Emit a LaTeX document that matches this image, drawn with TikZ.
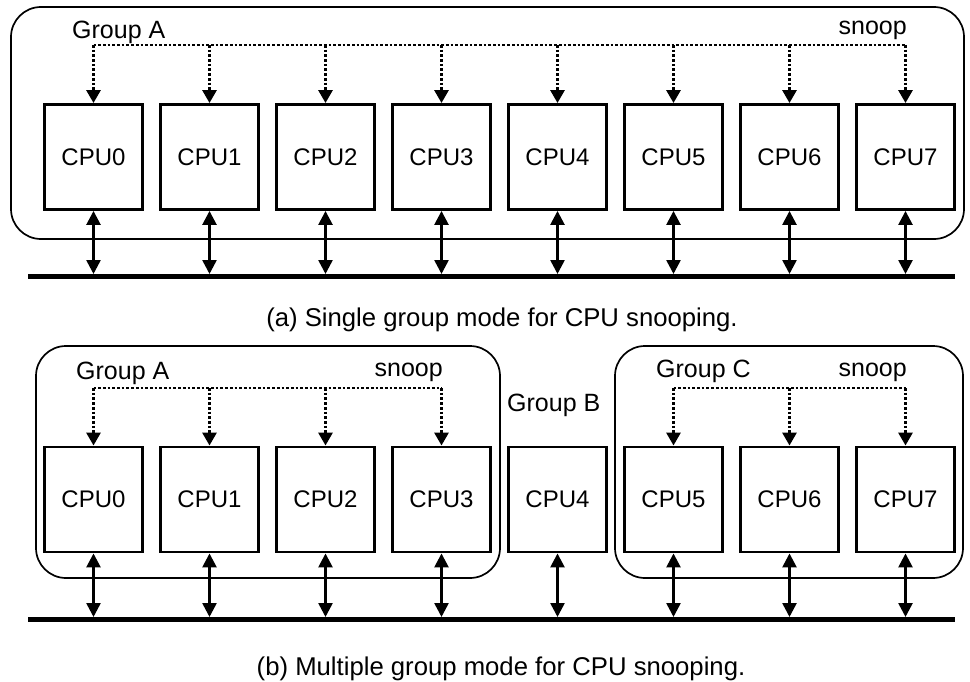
\documentclass[tikz,border=0pt]{standalone}
\usepackage{fontspec}
\setmainfont{Liberation Sans}
\usetikzlibrary{arrows.meta}
\begin{document}
\begin{tikzpicture}[x=1pt,y=-1pt,
  cpubox/.style={draw,line width=2.9pt,minimum width=98pt,minimum height=105pt,
    inner sep=0pt,font=\fontsize{24}{28}\selectfont},
  groupbox/.style={draw,line width=1.7pt,rounded corners=30pt},
  lbl/.style={font=\fontsize{25}{30}\selectfont,inner sep=0pt},
  caption/.style={font=\fontsize{25.7}{30}\selectfont,inner sep=0pt},
  snoopline/.style={line width=2.9pt,dash pattern=on 2.7pt off 2pt},
  snooparrow/.style={snoopline,-{Triangle[length=13pt,width=14pt]}},
  busline/.style={line width=5.5pt},
  busarrow/.style={line width=2.6pt,
    {Triangle[length=14pt,width=14pt]}-{Triangle[length=14pt,width=14pt]}},
]
\useasboundingbox (0,0) rectangle (970,682);

% ---------- (a) single group ----------
\draw[groupbox] (11,7) rectangle (964,239);
\node[lbl,anchor=base west] (grpAa) at (72,39) {Group A};
\node[lbl,anchor=base east] (snpAa) at (907,35) {snoop};
\foreach \i in {0,...,7}
  \node[cpubox] (cpuA\i) at ({93.5+116*\i},157) {CPU\i};

\coordinate (snoopA) at (0,45);
\coordinate (busAL) at (28,276.5);
\coordinate (busAR) at (955,276.5);
\coordinate (busAtop) at (0,274);

\draw[snoopline] (cpuA0.north |- snoopA) -- (cpuA7.north |- snoopA);
\foreach \i in {0,...,7}
  \draw[snooparrow] (cpuA\i.north |- snoopA) -- (cpuA\i.north);
\draw[busline] (busAL) -- (busAR);
\foreach \i in {0,...,7}
  \draw[busarrow] (cpuA\i.south) -- (cpuA\i.south |- busAtop);

\node[caption,anchor=base] (capA) at (502,326) {(a) Single group mode for CPU snooping.};

% ---------- (b) multiple groups ----------
\draw[groupbox] (36,346) rectangle (500,578);
\draw[groupbox] (615,346) rectangle (963,578);
\node[lbl,anchor=base west] (grpBa) at (76,379) {Group A};
\node[lbl,anchor=base east] (snpBa) at (443,376) {snoop};
\node[lbl,anchor=base west] (grpBb) at (507,411) {Group B};
\node[lbl,anchor=base west] (grpBc) at (656,377) {Group C};
\node[lbl,anchor=base east] (snpBc) at (907,376) {snoop};
\foreach \i in {0,...,7}
  \node[cpubox] (cpuB\i) at ({93.5+116*\i},499.5) {CPU\i};

\coordinate (snoopB) at (0,388);
\coordinate (busBL) at (28,619.5);
\coordinate (busBR) at (955,619.5);
\coordinate (busBtop) at (0,617);

\draw[snoopline] (cpuB0.north |- snoopB) -- (cpuB3.north |- snoopB);
\draw[snoopline] (cpuB5.north |- snoopB) -- (cpuB7.north |- snoopB);
\foreach \i in {0,1,2,3,5,6,7}
  \draw[snooparrow] (cpuB\i.north |- snoopB) -- (cpuB\i.north);
\draw[busline] (busBL) -- (busBR);
\foreach \i in {0,...,7}
  \draw[busarrow] (cpuB\i.south) -- (cpuB\i.south |- busBtop);

\node[caption,anchor=base] (capB) at (501,675) {(b) Multiple group mode for CPU snooping.};
\end{tikzpicture}
\end{document}
